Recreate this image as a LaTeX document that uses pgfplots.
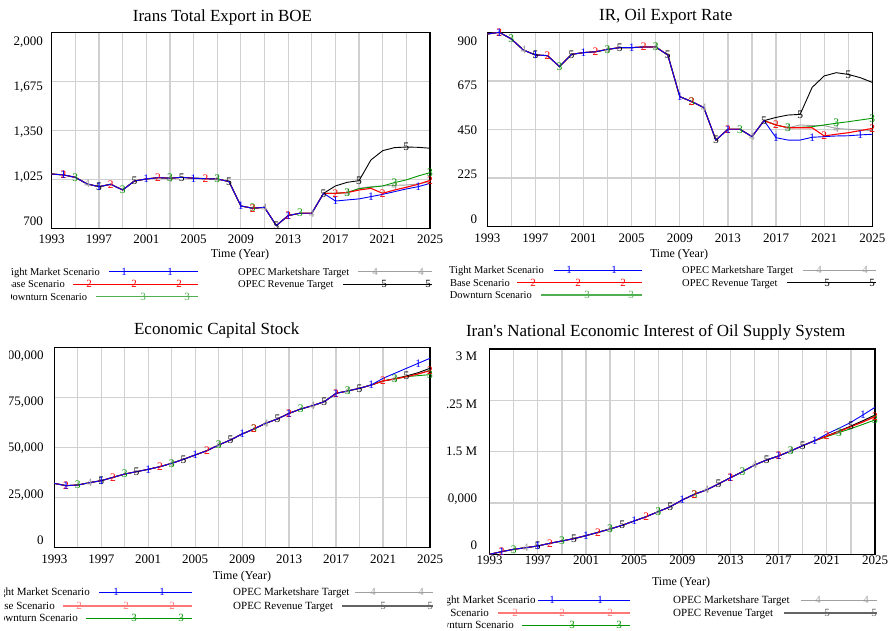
\documentclass[border=0pt]{standalone}
\usepackage{fontspec}
\setmainfont{Liberation Serif}
\usepackage{pgfplots}
\usepackage{pgfplotstable}
\pgfplotsset{compat=1.18}

\definecolor{vblue}{RGB}{0,0,255}
\definecolor{vred}{RGB}{255,0,0}
\definecolor{vgreen}{RGB}{0,150,0}
\definecolor{vgray}{RGB}{160,160,160}
\definecolor{vblack}{RGB}{0,0,0}
\definecolor{gridgray}{RGB}{208,208,208}
\definecolor{lgreen}{RGB}{80,175,80}
\definecolor{lred}{RGB}{255,120,120}
\definecolor{dgray}{RGB}{100,100,100}

\newcommand\titlefont{\fontsize{17}{17}\selectfont}
\newcommand\tickfont{\fontsize{13}{13}\selectfont}
\newcommand\timefont{\fontsize{12}{12}\selectfont}
\newcommand\legfont{\fontsize{10.5}{10.5}\selectfont}
\newcommand\leglfont{\fontsize{11}{11}\selectfont}
\newcommand\lmark{\fontsize{11}{11}\selectfont}
\newcommand\pmark{\fontsize{11.5}{11.5}\selectfont}

% Irans Total Export in BOE
\pgfplotstableread{
year s1 s2 s3 s4 s5
1993 1060 1060 1060 1060 1060
1994 1054 1054 1054 1054 1054
1995 1038 1038 1038 1038 1038
1996 994 994 994 994 994
1997 976 976 976 976 976
1998 992 992 992 992 992
1999 954 954 954 954 954
2000 1014 1014 1014 1014 1014
2001 1027 1027 1027 1027 1027
2002 1036 1036 1036 1036 1036
2003 1032 1032 1032 1032 1032
2004 1038 1038 1038 1038 1038
2005 1032 1032 1032 1032 1032
2006 1029 1029 1029 1029 1029
2007 1027 1027 1027 1027 1027
2008 1010 1010 1010 1010 1010
2009 848 848 848 848 848
2010 833 833 833 833 833
2011 839 839 839 839 839
2012 718 718 718 718 718
2013 784 784 784 784 784
2014 800 800 800 800 800
2015 800 800 800 800 800
2016 932 932 932 932 932
2017 881 932 932 932 981
2018 888 937 937 937 1005
2019 895 954 963 965 1016
2020 910 965 972 976 1153
2021 925 932 981 981 1215
2022 943 954 1003 985 1235
2023 961 972 1021 987 1239
2024 976 992 1047 994 1237
2025 998 1018 1069 1010 1231
}\tabA

% IR, Oil Export Rate
\pgfplotstableread{
year s1 s2 s3 s4 s5
1993 892 892 892 892 892
1994 900 900 900 900 900
1995 869 869 869 869 869
1996 818 818 818 818 818
1997 795 795 795 795 795
1998 792 792 792 792 792
1999 741 741 741 741 741
2000 798 798 798 798 798
2001 806 806 806 806 806
2002 810 810 810 810 810
2003 821 821 821 821 821
2004 829 829 829 829 829
2005 829 829 829 829 829
2006 832 832 832 832 832
2007 832 832 832 832 832
2008 795 795 795 795 795
2009 602 602 602 602 602
2010 579 579 579 579 579
2011 551 551 551 551 551
2012 401 401 401 401 401
2013 451 451 451 451 451
2014 451 451 451 451 451
2015 417 417 417 417 417
2016 491 491 491 491 491
2017 412 471 471 471 506
2018 401 458 458 458 517
2019 401 458 460 471 520
2020 414 458 463 468 645
2021 417 420 471 468 698
2022 420 428 479 455 713
2023 421 435 486 451 705
2024 425 445 494 448 690
2025 428 455 502 445 668
}\tabB

% Economic Capital Stock
\pgfplotstableread{
year s1 s2 s3 s4 s5
1993 32100 32100 32100 32100 32100
1994 30950 30950 30950 30950 30950
1995 31280 31280 31280 31280 31280
1996 32450 32450 32450 32450 32450
1997 33450 33450 33450 33450 33450
1998 35100 35100 35100 35100 35100
1999 36770 36770 36770 36770 36770
2000 37940 37940 37940 37940 37940
2001 39100 39100 39100 39100 39100
2002 40430 40430 40430 40430 40430
2003 42100 42100 42100 42100 42100
2004 44100 44100 44100 44100 44100
2005 46260 46260 46260 46260 46260
2006 48420 48420 48420 48420 48420
2007 51250 51250 51250 51250 51250
2008 53750 53750 53750 53750 53750
2009 56740 56740 56740 56740 56740
2010 59240 59240 59240 59240 59240
2011 62070 62070 62070 62070 62070
2012 64230 64230 64230 64230 64230
2013 67060 67060 67060 67060 67060
2014 69220 69220 69220 69220 69220
2015 70890 70890 70890 70890 70890
2016 72880 72880 72880 72880 72880
2017 77040 77040 77040 77040 77040
2018 78210 78210 78210 78210 78210
2019 79540 79540 79540 79540 79540
2020 81200 81200 81200 81200 81200
2021 84530 83200 83200 83200 83200
2022 87030 84200 84200 84200 84370
2023 89520 85360 85360 85360 85700
2024 92020 86690 85860 86860 87360
2025 94520 88360 86360 88690 89520
}\tabC

% Iran's National Economic Interest of Oil Supply System
\pgfplotstableread{
year s1 s2 s3 s4 s5
1993 0 0 0 0 0
1994 39000 39000 39000 39000 39000
1995 73000 73000 73000 73000 73000
1996 97000 97000 97000 97000 97000
1997 122000 122000 122000 122000 122000
1998 161000 161000 161000 161000 161000
1999 195000 195000 195000 195000 195000
2000 229000 229000 229000 229000 229000
2001 273000 273000 273000 273000 273000
2002 321000 321000 321000 321000 321000
2003 370000 370000 370000 370000 370000
2004 424000 424000 424000 424000 424000
2005 487000 487000 487000 487000 487000
2006 550000 550000 550000 550000 550000
2007 623000 623000 623000 623000 623000
2008 696000 696000 696000 696000 696000
2009 794000 794000 794000 794000 794000
2010 877000 877000 877000 877000 877000
2011 940000 940000 940000 940000 940000
2012 1028000 1028000 1028000 1028000 1028000
2013 1120000 1120000 1120000 1120000 1120000
2014 1208000 1208000 1208000 1208000 1208000
2015 1305000 1305000 1305000 1305000 1305000
2016 1378000 1378000 1378000 1378000 1378000
2017 1437000 1437000 1437000 1437000 1437000
2018 1510000 1510000 1510000 1510000 1510000
2019 1588000 1588000 1588000 1588000 1588000
2020 1661000 1661000 1661000 1661000 1661000
2021 1758000 1729000 1719000 1729000 1729000
2022 1841000 1792000 1778000 1797000 1802000
2023 1929000 1865000 1836000 1870000 1875000
2024 2036000 1933000 1899000 1943000 1953000
2025 2148000 2011000 1963000 2026000 2036000
}\tabD

\pgfplotsset{
  vensim/.style={
    scale only axis, anchor=south west, clip=false,
    xmin=1993, xmax=2025,
    xtick={1993,1997,...,2025},
    xticklabels={1993,1997,2001,2005,2009,2013,2017,2021,2025},
    minor xtick={1995,1999,...,2023},
    xmajorgrids, xminorgrids, ymajorgrids,
    major grid style={draw=gridgray, line width=1.25pt},
    minor grid style={draw=gridgray, line width=1.25pt},
    major tick length=0pt, minor tick length=0pt,
    yticklabels={}, scaled y ticks=false,
    xticklabel style={font=\tickfont, anchor=center, inner sep=0pt},
    axis line style={line width=1.5pt},
  },
  tm/.style={mark=text, text mark as node=true, text mark style={font=\pmark, inner sep=0pt}},
  p1/.style={color=vblue, line width=0.9pt, tm, text mark={1},
    mark indices={2,5,9,13,17,21,25,28,32}},
  p2/.style={color=vred, line width=1.1pt, tm, text mark={2},
    mark indices={2,6,10,14,18,21,25,29,33}},
  p3/.style={color=vgreen, line width=0.9pt, tm, text mark={3},
    mark indices={3,7,11,15,18,22,26,30,33}},
  p4/.style={color=vgray, line width=0.9pt, tm, text mark={4},
    mark indices={4,11,15,19,23,26,30}},
  p5/.style={color=vblack, line width=0.9pt, tm, text mark={5},
    mark indices={5,8,12,16,20,24,27,31}},
}

\newcommand{\legseg}[7]{%
  \draw[#1, line width=#2] (#4,#3) -- (#5,#3);
  \foreach \mx in {#7} {\node[text=#1, font=\lmark, inner sep=0pt] at (\mx,#3) {#6};}%
}

\begin{document}
\begin{tikzpicture}[x=1pt,y=1pt]

% ---------------- top left ----------------
\begin{axis}[vensim, at={(51.7pt,402.7pt)}, width=378.3pt, height=196pt,
  ymin=700, ymax=2000, ytick={700,1025,1350,1675,2000},
  xticklabel style={yshift=-11.4pt}]
\addplot[p4] table[x=year,y=s4]{\tabA};
\addplot[p5] table[x=year,y=s5]{\tabA};
\addplot[p3] table[x=year,y=s3]{\tabA};
\addplot[p2] table[x=year,y=s2]{\tabA};
\addplot[p1] table[x=year,y=s1]{\tabA};
\end{axis}

% ---------------- top right ----------------
\begin{axis}[vensim, at={(487.3pt,404.3pt)}, width=385pt, height=194.4pt,
  ymin=0, ymax=900, ytick={0,225,450,675,900},
  xticklabel style={yshift=-11.6pt}]
\addplot[p4] table[x=year,y=s4]{\tabB};
\addplot[p5] table[x=year,y=s5]{\tabB};
\addplot[p3] table[x=year,y=s3]{\tabB};
\addplot[p2] table[x=year,y=s2]{\tabB};
\addplot[p1] table[x=year,y=s1]{\tabB};
\end{axis}

% ---------------- bottom left ----------------
\begin{axis}[vensim, at={(54.3pt,83.3pt)}, width=375.7pt, height=200.4pt,
  ymin=0, ymax=100000, ytick={0,25000,50000,75000,100000},
  xticklabel style={yshift=-11.6pt}]
\addplot[p4] table[x=year,y=s4]{\tabC};
\addplot[p5] table[x=year,y=s5]{\tabC};
\addplot[p3] table[x=year,y=s3]{\tabC};
\addplot[p2] table[x=year,y=s2]{\tabC};
\addplot[p1] table[x=year,y=s1]{\tabC};
\end{axis}

% ---------------- bottom right ----------------
\begin{axis}[vensim, at={(489.7pt,76.7pt)}, width=385.3pt, height=205.3pt,
  ymin=0, ymax=3000000, ytick={0,750000,1500000,2250000,3000000},
  xticklabel style={yshift=-6.2pt}]
\addplot[p4] table[x=year,y=s4]{\tabD};
\addplot[p5] table[x=year,y=s5]{\tabD};
\addplot[p3] table[x=year,y=s3]{\tabD};
\addplot[p2] table[x=year,y=s2]{\tabD};
\addplot[p1] table[x=year,y=s1]{\tabD};
\end{axis}

% ---------------- titles ----------------
\node[font=\titlefont, anchor=base, inner sep=0pt] at (222.5,609.3) {Irans Total Export in BOE};
\node[font=\titlefont, anchor=base, inner sep=0pt] at (665.7,610.3) {IR, Oil Export Rate};
\node[font=\titlefont, anchor=base, inner sep=0pt] at (216.7,296) {Economic Capital Stock};
\node[font=\titlefont, anchor=base, inner sep=0pt] at (655.7,294.3) {Iran\textquotesingle s National Economic Interest of Oil Supply System};

\node[font=\timefont, anchor=base, inner sep=0pt] at (240,373) {Time (Year)};
\node[font=\timefont, anchor=base, inner sep=0pt] at (679,373.7) {Time (Year)};
\node[font=\timefont, anchor=base, inner sep=0pt] at (242,51) {Time (Year)};
\node[font=\timefont, anchor=base, inner sep=0pt] at (681,45) {Time (Year)};

% ---------------- y tick labels ----------------
\begin{scope}[every node/.style={font=\tickfont, anchor=east, inner sep=0pt, text depth=0pt}]
\node at (43,590.3) {2,000};
\node at (43,545.2) {1,675};
\node at (43,500.1) {1,350};
\node at (43,455.0) {1,025};
\node at (43,409.9) {700};
\node at (477.3,590.3) {900};
\node at (477.3,545.65) {675};
\node at (477.3,501) {450};
\node at (477.3,456.35) {225};
\node at (477.3,411.7) {0};
\end{scope}
\begin{scope}
\clip (9,80) rectangle (60,300);
\begin{scope}[every node/.style={font=\tickfont, anchor=east, inner sep=0pt, text depth=0pt}]
\node at (43.8,276) {100,000};
\node at (43.8,229.75) {75,000};
\node at (43.8,183.5) {50,000};
\node at (43.8,137.25) {25,000};
\node at (43.8,91) {0};
\end{scope}
\end{scope}
\begin{scope}
\clip (447,0) rectangle (888,300);
\begin{scope}[every node/.style={font=\tickfont, anchor=east, inner sep=0pt, text depth=0pt}]
\node at (477.3,274.3) {3 M};
\node at (477.3,227.2) {2.25 M};
\node at (477.3,180.1) {1.5 M};
\node at (477.3,133.1) {750,000};
\node at (477.3,86) {0};
\end{scope}
\end{scope}

% ---------------- legends ----------------
% top left
\begin{scope}
\clip (11,320) rectangle (444,380);
\node[font=\legfont, anchor=base east, inner sep=0pt] at (100,355.8) {Tight Market Scenario};
\node[font=\legfont, anchor=base east, inner sep=0pt] at (65,343.2) {Base Scenario};
\node[font=\legfont, anchor=base east, inner sep=0pt] at (87.3,330.8) {Downturn Scenario};
\end{scope}
\legseg{vblue}{0.9pt}{359.3}{109}{198}{1}{124,170}
\legseg{vred}{0.9pt}{346.7}{73}{198}{2}{89,134,179}
\legseg{lgreen}{1.5pt}{334.3}{96}{198}{3}{143,187}
\node[font=\legfont, anchor=base west, inner sep=0pt] at (238,355.8) {OPEC Marketshare Target};
\node[font=\legfont, anchor=base west, inner sep=0pt] at (238,343.2) {OPEC Revenue Target};
\legseg{vgray}{0.9pt}{359.3}{358}{432}{4}{375,421}
\legseg{vblack}{0.9pt}{346.7}{343}{432}{5}{384,428}

% top right
\node[font=\legfont, anchor=base east, inner sep=0pt] at (544,357.5) {Tight Market Scenario};
\node[font=\legfont, anchor=base east, inner sep=0pt] at (510,344.8) {Base Scenario};
\node[font=\legfont, anchor=base east, inner sep=0pt] at (532,332.5) {Downturn Scenario};
\legseg{vblue}{0.9pt}{361}{554}{642}{1}{569,614}
\legseg{vred}{0.9pt}{348.3}{517}{642}{2}{533,578,623}
\legseg{lgreen}{1.5pt}{336}{541}{642}{3}{587,631}
\node[font=\legfont, anchor=base west, inner sep=0pt] at (682,357.5) {OPEC Marketshare Target};
\node[font=\legfont, anchor=base west, inner sep=0pt] at (682,344.8) {OPEC Revenue Target};
\legseg{vgray}{0.9pt}{361}{803}{876}{4}{819,865}
\legseg{vblack}{0.9pt}{348.3}{787}{876}{5}{827,872}

% bottom left
\begin{scope}
\clip (4,0) rectangle (444,60);
\node[font=\leglfont, anchor=base east, inner sep=0pt] at (90,35) {Tight Market Scenario};
\node[font=\leglfont, anchor=base east, inner sep=0pt] at (55,21.6) {Base Scenario};
\node[font=\leglfont, anchor=base east, inner sep=0pt] at (78,9) {Downturn Scenario};
\end{scope}
\legseg{vblue}{0.9pt}{38.7}{99}{192}{1}{116,162}
\legseg{lred}{1.8pt}{25.3}{63}{192}{2}{79,126,172}
\legseg{vgreen}{0.9pt}{12.7}{86}{192}{3}{134,181}
\node[font=\leglfont, anchor=base west, inner sep=0pt] at (233,35) {OPEC Marketshare Target};
\node[font=\leglfont, anchor=base west, inner sep=0pt] at (233,21.6) {OPEC Revenue Target};
\legseg{vgray}{0.9pt}{38.7}{355}{433}{4}{373,421}
\legseg{dgray}{1.8pt}{25.3}{342}{433}{5}{383,430}

% bottom right
\begin{scope}
\clip (447,0) rectangle (888,60);
\node[font=\leglfont, anchor=base east, inner sep=0pt] at (535.7,27.3) {Tight Market Scenario};
\node[font=\leglfont, anchor=base east, inner sep=0pt] at (489,14.6) {Base Scenario};
\node[font=\leglfont, anchor=base east, inner sep=0pt] at (514,2.3) {Downturn Scenario};
\end{scope}
\legseg{vblue}{0.9pt}{31}{538}{630}{1}{552,600}
\legseg{lred}{1.8pt}{18.3}{498}{630}{2}{515,562,610}
\legseg{vgreen}{0.9pt}{6}{522}{630}{3}{572,619}
\node[font=\leglfont, anchor=base west, inner sep=0pt] at (673,27.3) {OPEC Marketshare Target};
\node[font=\leglfont, anchor=base west, inner sep=0pt] at (673,14.6) {OPEC Revenue Target};
\legseg{vgray}{0.9pt}{31}{801}{877}{4}{818,866}
\legseg{dgray}{1.8pt}{18.3}{784}{877}{5}{827,874}

\pgfresetboundingbox
\useasboundingbox (0,0) rectangle (888,631);
\end{tikzpicture}
\end{document}
